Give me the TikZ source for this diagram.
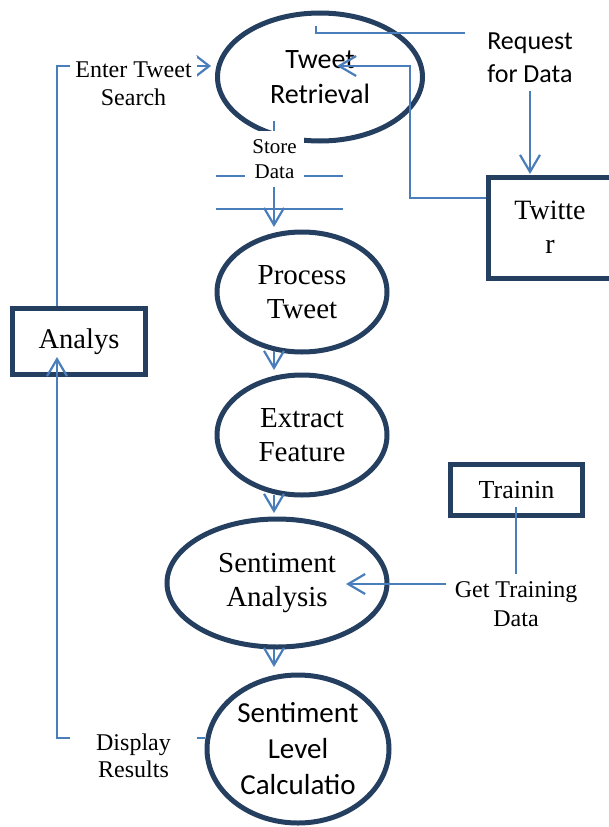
\documentclass[tikz,border=0pt]{standalone}
\usepackage{fontspec}
\setmainfont{Liberation Serif}
\newfontfamily\calib{Carlito}
\usetikzlibrary{shapes.geometric,arrows.meta}
\definecolor{navy}{RGB}{36,63,96}
\definecolor{conblue}{RGB}{74,126,187}
\begin{document}
\begin{tikzpicture}[x=1pt,y=-1pt,
  ell/.style={ellipse, draw=navy, line width=5pt, inner sep=0pt, align=center},
  boxn/.style={rectangle, draw=navy, line width=5pt, inner sep=0pt, align=center},
  lbl/.style={fill=white, inner sep=0pt, align=center},
  conn/.style={draw=conblue, line width=2.2pt},
  arr/.style={-{Straight Barb[length=17pt,width=20pt]}},
  arrs/.style={-{Straight Barb[length=13pt,width=20pt]}}]
\useasboundingbox (0,0) rectangle (608,827);

% process ellipses
\node[ell, font=\calib\fontsize{28}{35}\selectfont, minimum width=205pt, minimum height=128pt] (tr) at (320,77) {Tweet\\Retrieval};
\node[ell, font=\fontsize{29}{34}\selectfont, minimum width=170pt, minimum height=120pt] (pt) at (302,292) {Process\\Tweet};
\node[ell, font=\fontsize{29}{34}\selectfont, minimum width=170pt, minimum height=120pt] (ef) at (302,435) {Extract\\Feature};
\node[ell, font=\fontsize{29}{34}\selectfont, minimum width=220pt, minimum height=128pt] (sa) at (277,583) {Sentiment\\Analysis};
\node[ell, font=\calib\fontsize{29}{36}\selectfont, minimum width=182pt, minimum height=148pt] (slc) at (298,749) {Sentiment\\Level\\Calculatio};

% external entities
\node[boxn, font=\fontsize{28}{34}\selectfont, minimum width=124pt, minimum height=101pt] (tw) at (550,227.5) {Twitte\\r};
\node[boxn, font=\fontsize{28.5}{34}\selectfont, minimum width=133pt, minimum height=66pt] (an) at (79,341.5) {Analys};
\node[boxn, font=\fontsize{26}{30}\selectfont, minimum width=132.5pt, minimum height=51.5pt] (trn) at (516.5,490) {Trainin};

% data store
\coordinate (ds1a) at (216,176); \coordinate (ds1b) at (343,176);
\coordinate (ds2a) at (216,209); \coordinate (ds2b) at (343,209);
\draw[conn] (ds1a) -- (ds1b);
\draw[conn] (ds2a) -- (ds2b);

% connectors
\coordinate (c1) at (57,66);
\coordinate (c2) at (211,66);
\draw[conn,arrs] (an.north -| c1) -- (c1) -- (c2);

\coordinate (r1) at (316,26);
\coordinate (r2) at (316,33);
\coordinate (r3) at (530,33);
\coordinate (r4) at (530,174);
\draw[conn,arr] (r1) -- (r2) -- (r3) -- (r4);

\coordinate (t1) at (410,198);
\coordinate (t2) at (410,66);
\coordinate (t3) at (337,66);
\draw[conn,arr] (tw.west |- t1) -- (t1) -- (t2) -- (t3);

\coordinate (s1) at (274,121);
\coordinate (s2) at (274,227);
\draw[conn,arr] (s1) -- (s2);

\coordinate (p1) at (274,351);
\coordinate (p2) at (274,370);
\draw[conn,arr] (p1) -- (p2);
\coordinate (f1) at (274,495);
\coordinate (f2) at (274,513);
\draw[conn,arr] (f1) -- (f2);
\coordinate (a1) at (274,649);
\coordinate (a2) at (274,667);
\draw[conn,arr] (a1) -- (a2);

\coordinate (g1) at (516,507);
\coordinate (g2) at (516,584);
\coordinate (g3) at (346,584);
\draw[conn,arr] (g1) -- (g2) -- (g3);

\coordinate (d1) at (205,738);
\coordinate (d2) at (57,738);
\coordinate (d3) at (57,357);
\draw[conn,arr] (d1) -- (d2) -- (d3);

% labels
\node[lbl, font=\fontsize{24}{28}\selectfont, minimum width=127pt, minimum height=56pt] (lenter) at (133.5,84) {Enter Tweet\\Search};
\node[lbl, font=\fontsize{21}{25}\selectfont, minimum width=59pt, minimum height=56pt] (lstore) at (274.5,159) {Store\\Data};
\node[lbl, font=\calib\fontsize{26}{33}\selectfont, minimum width=130pt, minimum height=65pt] (lreq) at (530,58) {Request\\for Data};
\node[lbl, font=\fontsize{24}{29}\selectfont, minimum width=140pt, minimum height=60pt] (lget) at (516,604) {Get Training\\Data};
\node[lbl, font=\fontsize{24}{27}\selectfont, minimum width=127pt, minimum height=60pt] (ldisp) at (133.5,756) {Display\\Results};
\end{tikzpicture}
\end{document}
